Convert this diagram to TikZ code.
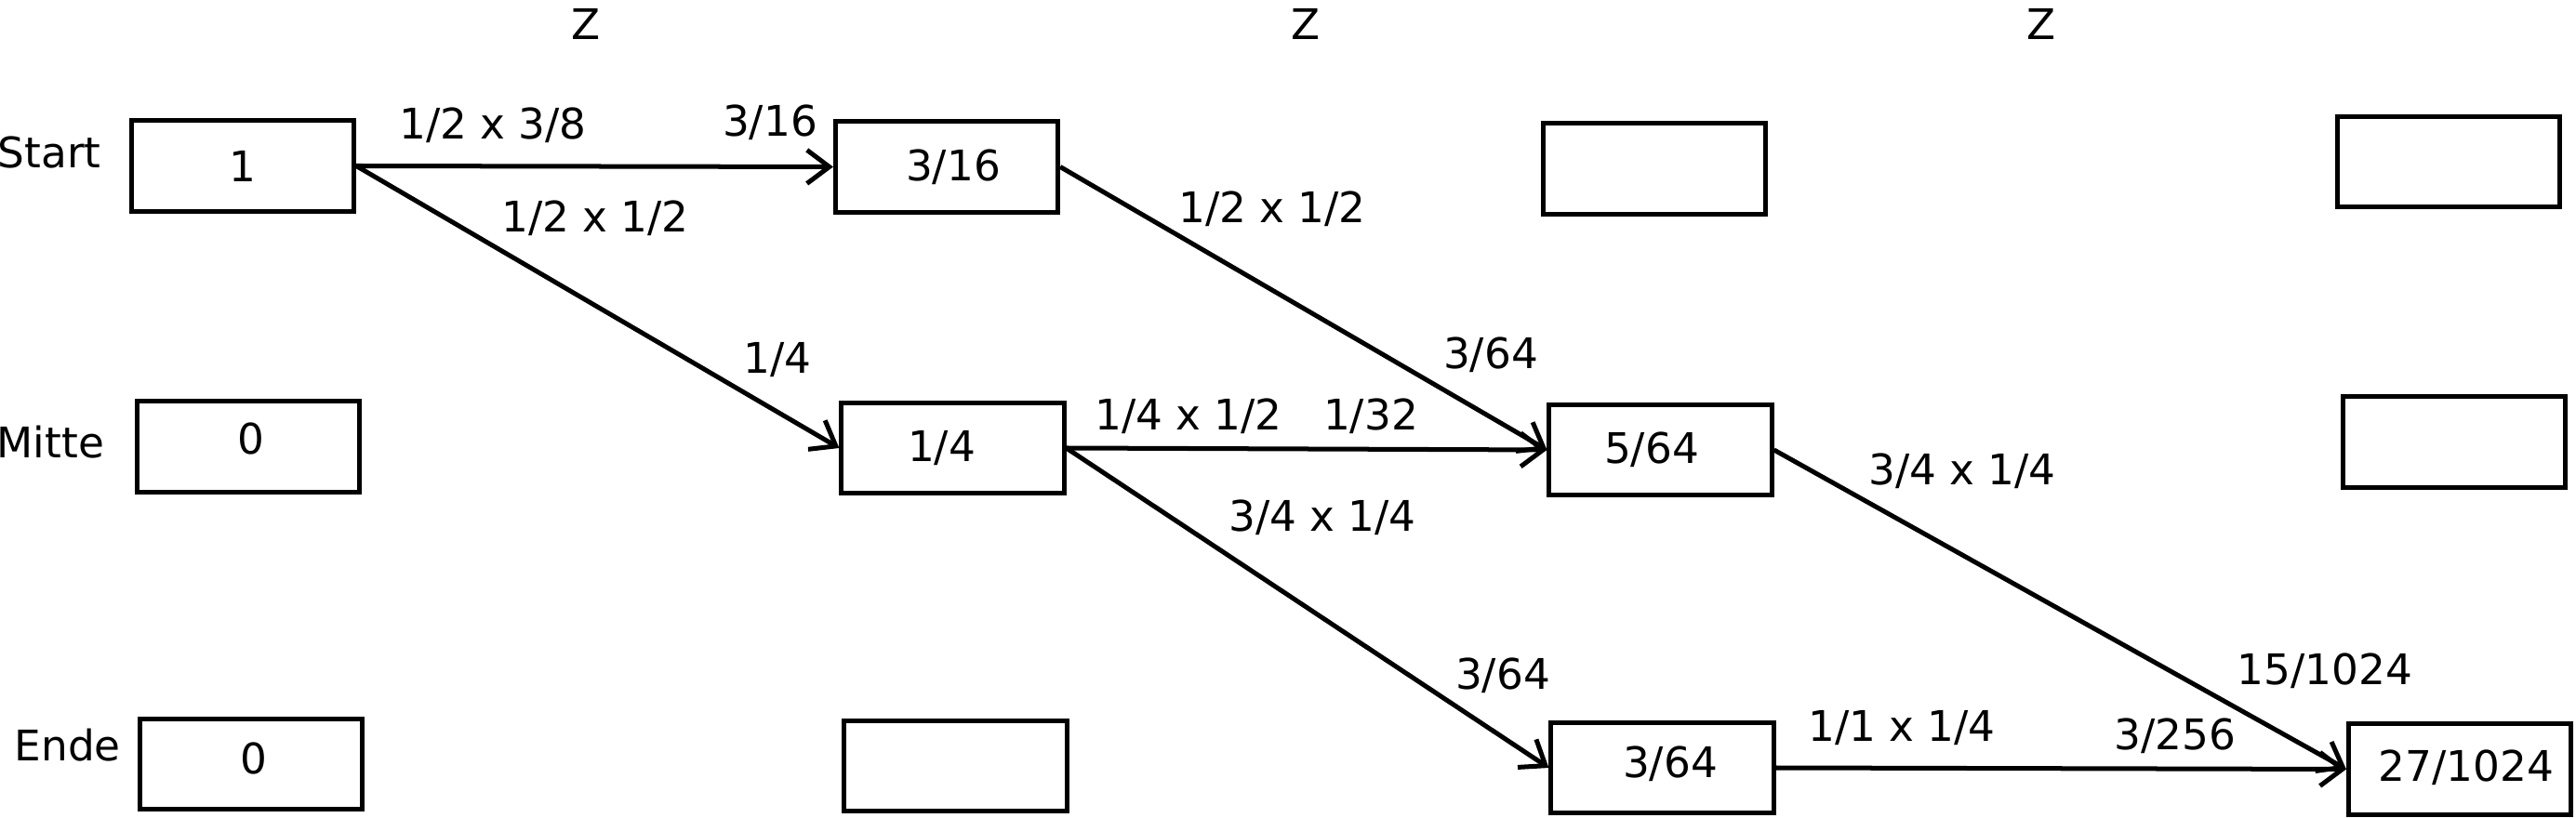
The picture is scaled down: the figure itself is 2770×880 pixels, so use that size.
\documentclass[tikz,border=0pt]{standalone}
\usepackage{fontspec}
\setmainfont{DejaVu Sans}
\usetikzlibrary{arrows.meta}
\newcommand\nudge[3]{\hspace*{#1}\raisebox{#2}{#3}}
\begin{document}
\begin{tikzpicture}[x=0.01cm,y=-0.01cm,
  font=\fontsize{12.9pt}{15.5pt}\selectfont,
  box/.style={draw, line width=0.05cm, minimum width=2.39cm, minimum height=0.97cm, inner sep=0pt},
  lbl/.style={anchor=base, inner sep=0pt},
  rowlbl/.style={anchor=base west, inner sep=0pt},
  arr/.style={line width=0.05cm, -{Straight Barb[length=0.24cm, width=0.36cm]}}]
\fill[white] (0,0) rectangle (2770,880);
\useasboundingbox (0,0) rectangle (2770,880);

% column headers
\node[lbl] (z1) at (630,43) {Z};
\node[lbl] (z2) at (1404,43) {Z};
\node[lbl] (z3) at (2195,43) {Z};

% row labels
\node[rowlbl] (rs) at (-3,181) {Start};
\node[rowlbl] (rm) at (-4,493) {Mitte};
\node[rowlbl] (re) at (15,819) {Ende};

% boxes
\node[box] (s0) at (261,178.5) {1};
\node[box] (m0) at (267,480.5) {\nudge{0.06cm}{0.18cm}{0}};
\node[box] (e0) at (270,822) {\nudge{0.06cm}{0.12cm}{0}};

\node[box] (s1) at (1018,179.5) {\nudge{0.14cm}{0.04cm}{3/16}};
\node[box] (m1) at (1024.5,482) {\nudge{-0.24cm}{0.04cm}{1/4}};
\node[box] (e1) at (1027.5,824) {};

\node[box] (s2) at (1779,181.5) {};
\node[box] (m2) at (1785.5,484) {\nudge{-0.19cm}{0cm}{5/64}};
\node[box] (e2) at (1787.5,826) {\nudge{0.17cm}{0.12cm}{3/64}};

\node[box] (s3) at (2633,174) {};
\node[box] (m3) at (2639,475.5) {};
\node[box] (e3) at (2645,827.5) {\nudge{0.14cm}{0.07cm}{27/1024}};

% connectors
\draw[arr] (s0.east) -- (s1.west);
\draw[arr] (s0.east) -- (m1.west);
\draw[arr] (s1.east) -- (m2.west);
\draw[arr] (m1.east) -- (m2.west);
\draw[arr] (m1.east) -- (e2.west);
\draw[arr] (m2.east) -- (e3.west);
\draw[arr] (e2.east) -- (e3.west);

% edge labels
\node[lbl] (l1) at (530,150) {1/2 x 3/8};
\node[lbl] (l2) at (828,147) {3/16};
\node[lbl] (l3) at (640,250) {1/2 x 1/2};
\node[lbl] (l4) at (836,402) {1/4};
\node[lbl] (l5) at (1368,240) {1/2 x 1/2};
\node[lbl] (l6) at (1603,397) {3/64};
\node[lbl] (l7) at (1278,463) {1/4 x 1/2};
\node[lbl] (l8) at (1474,463) {1/32};
\node[lbl] (l9) at (1422,572) {3/4 x 1/4};
\node[lbl] (l10) at (1616,742) {3/64};
\node[lbl] (l11) at (2110,522) {3/4 x 1/4};
\node[lbl] (l12) at (2500,737) {15/1024};
\node[lbl] (l13) at (2045,798) {1/1 x 1/4};
\node[lbl] (l14) at (2339,807) {3/256};
\end{tikzpicture}
\end{document}
